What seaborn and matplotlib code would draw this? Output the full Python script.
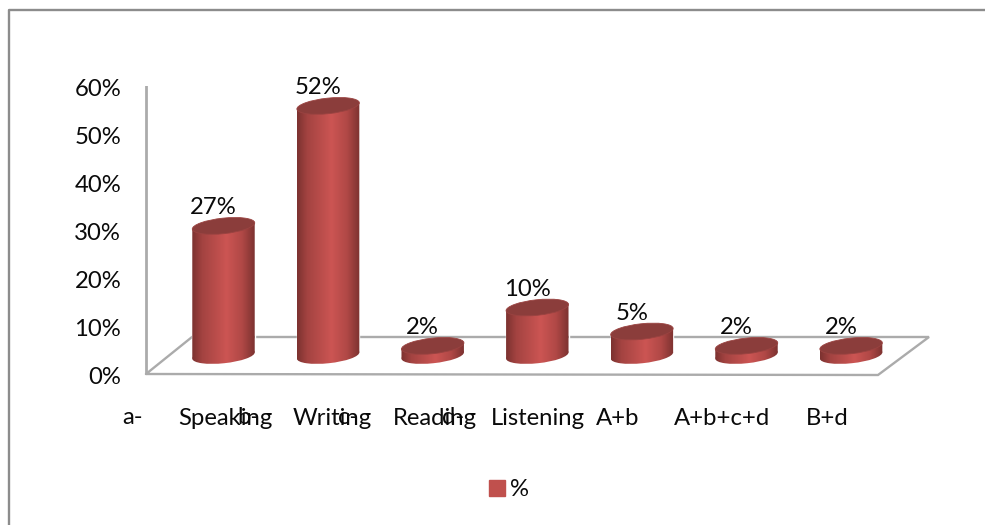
import numpy as np
import matplotlib
matplotlib.use("Agg")
import matplotlib.pyplot as plt
import seaborn as sns
from matplotlib.colors import LinearSegmentedColormap
from matplotlib.lines import Line2D
from matplotlib.patches import Ellipse, Patch, Polygon
from matplotlib.transforms import ScaledTranslation

# ---- data ----
categories = ["Speaking", "Writing", "Reading", "Listening", "A+b", "A+b+c+d", "B+d"]
values = [27, 52, 2, 10, 5, 2, 2]
prefixes = ["a-", "b-", "c-", "d-"]
y_ticks = [0, 10, 20, 30, 40, 50, 60]
series_name = "%"

# ---- layout (pixels) ----
W, H = 985, 525
PX_PER_PCT = 4.8
WALL_X, WALL_ZERO = 146, 374
BASE_Y = 355.5
CAT_FIRST, CAT_STEP = 223.5, 104.6
LABEL_LEFT = [178, 293, 393, 491, 596, 674, 806]
PREFIX_LEFT = [122, 237, 338, 442]
LABEL_Y = 417
FS = 17.2
RED = "#C0504D"
GREY = "#ABABAB"

sns.set_theme(style="white")
plt.rcParams["font.family"] = ["Lato", "DejaVu Sans"]
plt.rcParams["text.color"] = "#0A0A0A"

fig = plt.figure(figsize=(W / 100, H / 100), dpi=100, facecolor="white")


def box(left, top, right, bottom):
    return [left / W, 1 - bottom / H, (right - left) / W, (bottom - top) / H]


def pixel_axes(z):
    a = fig.add_axes([0, 0, 1, 1], zorder=z)
    a.set_xlim(0, W)
    a.set_ylim(H, 0)
    a.axis("off")
    a.set_autoscale_on(False)
    return a


# back layer: outer frame and floor
back = pixel_axes(0)
back.add_line(Line2D([9, 9, W], [H, 10, 10], color="#8C8C8C", lw=1.7))
floor_x = [WALL_X, 192, 929, 878, WALL_X]
floor_y = [WALL_ZERO, 337, 337, 375, WALL_ZERO]
back.add_line(Line2D(floor_x, floor_y, color=GREY, lw=1.7, solid_joinstyle="miter"))

# value wall axis
wall = fig.add_axes(box(WALL_X - 20, WALL_ZERO - 60 * PX_PER_PCT, WALL_X + 20, WALL_ZERO), zorder=1)
wall.patch.set_alpha(0)
wall.set_ylim(0, 60)
wall.set_xlim(0, 1)
wall.set_xticks([])
wall.set_yticks(y_ticks, labels=[f"{t}%" for t in y_ticks], fontsize=FS, color="#0A0A0A")
wall.tick_params(axis="y", length=0, pad=3.5)
sns.despine(ax=wall, left=True, bottom=True)
wall.add_line(Line2D([0.5, 0.5], [0, 60.6], color=GREY, lw=2))
for lab in wall.get_yticklabels():
    lab.set_transform(lab.get_transform() + ScaledTranslation(0, -1 / 100, fig.dpi_scale_trans))

# seaborn bars
ax = fig.add_axes(
    box(CAT_FIRST - CAT_STEP / 2, BASE_Y - 60 * PX_PER_PCT,
        CAT_FIRST + 6.5 * CAT_STEP, BASE_Y),
    zorder=2,
)
ax.patch.set_alpha(0)
sns.barplot(x=categories, y=values, color=RED, saturation=1, width=0.6, ax=ax)
ax.set_ylim(0, 60)
ax.set_xlim(-0.5, 6.5)
ax.set_yticks([])
sns.despine(ax=ax, left=True, bottom=True)
ax.set_xlabel("")
ax.set_ylabel("")
ax.tick_params(axis="x", length=0, labelsize=FS, labelcolor="#0A0A0A",
               pad=(LABEL_Y - BASE_Y - 9) * 0.72)
fig.canvas.draw()
for i, lab in enumerate(ax.get_xticklabels()):
    centre = CAT_FIRST + i * CAT_STEP
    lab.set_ha("left")
    lab.set_transform(lab.get_transform() + ScaledTranslation((LABEL_LEFT[i] - centre) / 100, 0, fig.dpi_scale_trans))

for i, v in enumerate(values):
    ax.annotate(f"{v}%", (i, v), xytext=(-10 * 0.72, 18.5 * 0.72), textcoords="offset points",
                ha="center", va="center", fontsize=FS, annotation_clip=False, zorder=6)

ax.legend(handles=[Patch(color=RED, label=series_name)], loc="center",
          bbox_to_anchor=(509 / W, 1 - 490 / H), bbox_transform=fig.transFigure,
          frameon=False, fontsize=FS, handlelength=0.66, handleheight=0.66, handletextpad=0.2)

# cylinder shading derived from the seaborn bars
shade = pixel_axes(3)
cmap = LinearSegmentedColormap.from_list(
    "cyl", [(0, "#7C3230"), (0.16, "#A34341"), (0.55, "#CC5553"), (0.8, "#B04846"), (1, "#7C3230")])
grad = np.linspace(0, 1, 128).reshape(1, -1)
fig.canvas.draw()
TILT, MINOR = 6.0, 15.5
theta = np.radians(TILT)
for bar in ax.patches:
    ext = bar.get_window_extent()
    x0, x1 = ext.x0, ext.x1
    y_top, y_base = H - ext.y1, H - ext.y0
    cx = (x0 + x1) / 2
    w = x1 - x0
    a_, b_ = w / 2, MINOR / 2
    half_x = np.sqrt((a_ * np.cos(theta)) ** 2 + (b_ * np.sin(theta)) ** 2)
    dy = (a_ ** 2 - b_ ** 2) * np.sin(theta) * np.cos(theta) / half_x
    bar.set_facecolor("none")
    clips = [
        Polygon([(cx - half_x, y_top + dy), (cx + half_x, y_top - dy),
                 (cx + half_x, y_base - dy), (cx - half_x, y_base + dy)],
                transform=shade.transData),
        Ellipse((cx, y_base), w, MINOR, angle=-TILT, transform=shade.transData),
    ]
    for clip in clips:
        im = shade.imshow(grad, extent=(cx - half_x, cx + half_x, y_base + 15, y_top - 10),
                          aspect="auto", cmap=cmap, vmin=0, vmax=1, zorder=3)
        im.set_clip_path(clip)
    shade.add_patch(Ellipse((cx, y_top), w, MINOR, angle=-TILT, facecolor="#8B3D3B",
                            edgecolor="#9A4341", lw=0.6, zorder=4))
shade.set_xlim(0, W)
shade.set_ylim(H, 0)

# the tab-separated letter prefixes of the category labels
for name, left in zip(prefixes, PREFIX_LEFT):
    shade.text(left, LABEL_Y, name, ha="left", va="center", fontsize=FS)

fig.savefig("out.png", dpi=100, facecolor="white")
